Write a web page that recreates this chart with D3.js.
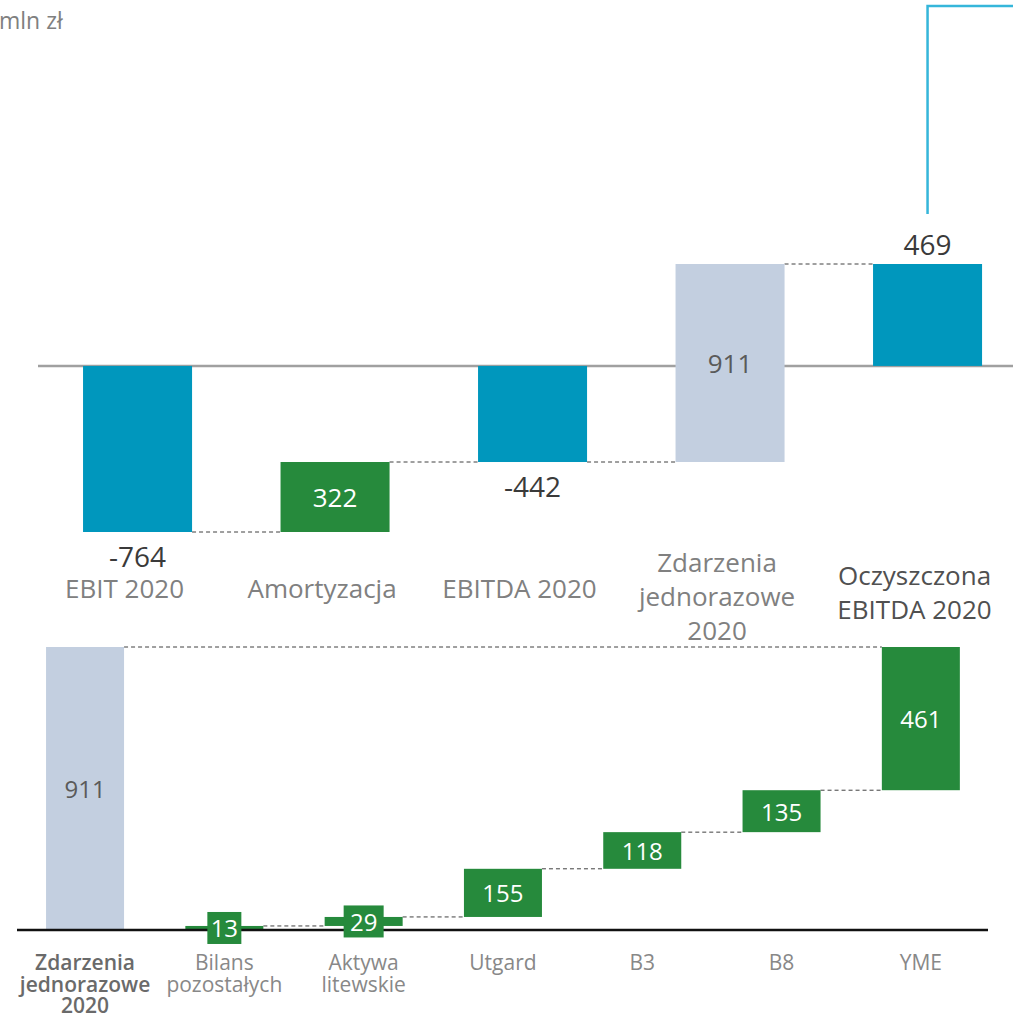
<!DOCTYPE html>
<html>
<head>
<meta charset="utf-8">
<script src="https://cdn.jsdelivr.net/npm/d3@7"></script>
<style>
  body { margin: 0; background: #fff; }
  svg { display: block; font-family: "Open Sans", "Noto Sans", sans-serif; }
</style>
</head>
<body>
<div id="chart"></div>
<script>
// top waterfall: EBIT -> oczyszczona EBITDA
const topCategories = [["EBIT 2020"], ["Amortyzacja"], ["EBITDA 2020"], ["Zdarzenia", "jednorazowe", "2020"], ["Oczyszczona", "EBITDA 2020"]];
const topValues = [-764, 322, -442, 911, 469];
const topKinds = ["total", "delta", "total", "event", "total"];

// bottom waterfall: breakdown of one-off events
const bottomCategories = [["Zdarzenia", "jednorazowe", "2020"], ["Bilans", "pozostałych"], ["Aktywa", "litewskie"], ["Utgard"], ["B3"], ["B8"], ["YME"]];
const bottomValues = [911, 13, 29, 155, 118, 135, 461];
const bottomKinds = ["reference", "delta", "delta", "delta", "delta", "delta", "delta"];

const unitLabel = "mln zł";

const width = 1013;
const height = 1014;
const colors = {
  total: "#0097bd",
  delta: "#268a3c",
  event: "#c3cfe0",
  reference: "#c3cfe0",
};

const svg = d3.select("#chart")
  .append("svg")
  .attr("width", width)
  .attr("height", height);

svg.append("text")
  .attr("x", -1)
  .attr("y", 20)
  .attr("dominant-baseline", "central")
  .attr("fill", "#808080")
  .attr("font-size", 23)
  .text(unitLabel);

function spans(values, kinds) {
  let running = 0;
  return values.map((v, i) => {
    const k = kinds[i];
    let y0, y1;
    if (k === "total") { y0 = 0; y1 = v; running = v; }
    else if (k === "reference") { y0 = 0; y1 = v; }
    else { y0 = running; y1 = running + v; running = y1; }
    return { i, v, kind: k, y0, y1 };
  });
}

// ---------- top chart ----------
const topData = spans(topValues, topKinds);

const xTop = d3.scaleBand()
  .domain(d3.range(topValues.length))
  .range([38.8, 1026.3])
  .paddingInner(0.448)
  .paddingOuter(0.224);

const yTop = d3.scaleLinear()
  .domain([-764, 469])
  .range([532, 264]);

const gTop = svg.append("g");

gTop.append("line")
  .attr("x1", 38).attr("x2", width)
  .attr("y1", yTop(0)).attr("y2", yTop(0))
  .attr("stroke", "#a0a0a0")
  .attr("stroke-width", 2.5);

// connectors
gTop.selectAll(".conn")
  .data(topData.slice(0, -1))
  .join("line")
  .attr("class", "conn")
  .attr("x1", (d) => xTop(d.i) + xTop.bandwidth())
  .attr("x2", (d) => xTop(d.i + 1))
  .attr("y1", (d) => yTop(d.y1))
  .attr("y2", (d) => yTop(d.y1))
  .attr("stroke", "#404040")
  .attr("stroke-width", 1)
  .attr("stroke-dasharray", "4,3");

gTop.selectAll(".bar")
  .data(topData)
  .join("rect")
  .attr("class", "bar")
  .attr("x", (d) => xTop(d.i))
  .attr("width", xTop.bandwidth())
  .attr("y", (d) => yTop(Math.max(d.y0, d.y1)))
  .attr("height", (d) => Math.abs(yTop(d.y0) - yTop(d.y1)))
  .attr("fill", (d) => colors[d.kind]);

// cyan link line out of the last bar
const last = topData[topData.length - 1];
const lx = xTop(last.i) + xTop.bandwidth() / 2;
gTop.append("path")
  .attr("d", d3.line()([[lx, yTop(last.y1) - 50], [lx, 6], [width, 6]]))
  .attr("fill", "none")
  .attr("stroke", "#35b6da")
  .attr("stroke-width", 2.5);

// value labels
gTop.selectAll(".val")
  .data(topData)
  .join("text")
  .attr("class", "val")
  .attr("x", (d) => xTop(d.i) + xTop.bandwidth() / 2)
  .attr("y", (d) => {
    if (d.kind === "total") return d.v < 0 ? yTop(d.v) + 24 : yTop(d.v) - 20;
    return (yTop(d.y0) + yTop(d.y1)) / 2;
  })
  .attr("text-anchor", "middle")
  .attr("dominant-baseline", "central")
  .attr("font-size", (d) => d.kind === "total" ? 28 : 26)
  .attr("fill", (d) => d.kind === "total" ? "#3a3a3a" : d.kind === "delta" ? "#fff" : "#5a5a5a")
  .text((d) => d.v);

// category labels
gTop.selectAll(".cat")
  .data(topCategories)
  .join("text")
  .attr("class", "cat")
  .attr("text-anchor", "middle")
  .attr("font-size", 26)
  .attr("fill", (d, i) => i === topCategories.length - 1 ? "#505050" : "#808080")
  .each(function (lines, i) {
    const cx = xTop(i) + xTop.bandwidth() / 2 - 13;
    const y0 = 588 - 13 * (lines.length - 1);
    d3.select(this).selectAll("tspan")
      .data(lines)
      .join("tspan")
      .attr("x", cx)
      .attr("y", (t, j) => y0 + j * 34)
      .attr("dominant-baseline", "central")
      .text((t) => t);
  });

// ---------- bottom chart ----------
const bottomData = spans(bottomValues, bottomKinds);

const xBot = d3.scaleBand()
  .domain(d3.range(bottomValues.length))
  .range([15.4, 990.5])
  .paddingInner(0.44)
  .paddingOuter(0.22);

const yBot = d3.scaleLinear()
  .domain([0, 911])
  .range([930, 647]);

const gBot = svg.append("g");

// connectors: reference top to last bar, and between deltas
const refBar = bottomData[0];
const lastBar = bottomData[bottomData.length - 1];
gBot.append("line")
  .attr("x1", xBot(refBar.i) + xBot.bandwidth())
  .attr("x2", xBot(lastBar.i))
  .attr("y1", yBot(refBar.y1)).attr("y2", yBot(refBar.y1))
  .attr("stroke", "#404040")
  .attr("stroke-width", 1)
  .attr("stroke-dasharray", "4,3");

gBot.selectAll(".conn")
  .data(bottomData.slice(1, -1))
  .join("line")
  .attr("class", "conn")
  .attr("x1", (d) => xBot(d.i) + xBot.bandwidth())
  .attr("x2", (d) => xBot(d.i + 1))
  .attr("y1", (d) => yBot(d.y1))
  .attr("y2", (d) => yBot(d.y1))
  .attr("stroke", "#404040")
  .attr("stroke-width", 1)
  .attr("stroke-dasharray", "4,3");

gBot.selectAll(".bar")
  .data(bottomData)
  .join("rect")
  .attr("class", "bar")
  .attr("x", (d) => xBot(d.i))
  .attr("width", xBot.bandwidth())
  .attr("y", (d) => yBot(d.y1))
  .attr("height", (d) => yBot(d.y0) - yBot(d.y1))
  .attr("fill", (d) => colors[d.kind]);

gBot.append("line")
  .attr("x1", 17).attr("x2", 988)
  .attr("y1", yBot(0)).attr("y2", yBot(0))
  .attr("stroke", "#111")
  .attr("stroke-width", 2.5);

// value labels (small bars get a green box behind the number)
const vals = gBot.selectAll(".val")
  .data(bottomData)
  .join("g")
  .attr("class", "val")
  .attr("transform", (d) => `translate(${xBot(d.i) + xBot.bandwidth() / 2}, ${(yBot(d.y0) + yBot(d.y1)) / 2})`);

vals.filter((d) => d.kind === "delta" && yBot(d.y0) - yBot(d.y1) < 28)
  .append("rect")
  .attr("x", (d) => d.v < 20 ? -17 : -20)
  .attr("width", (d) => d.v < 20 ? 34 : 40)
  .attr("y", -16)
  .attr("height", 32)
  .attr("fill", colors.delta);

vals.append("text")
  .attr("text-anchor", "middle")
  .attr("dominant-baseline", "central")
  .attr("font-size", 24)
  .attr("fill", (d) => d.kind === "delta" ? "#fff" : "#5a5a5a")
  .text((d) => d.v);

gBot.selectAll(".cat")
  .data(bottomCategories)
  .join("text")
  .attr("class", "cat")
  .attr("text-anchor", "middle")
  .attr("font-size", 21)
  .attr("font-weight", (d, i) => i === 0 ? 600 : "normal")
  .attr("fill", (d, i) => i === 0 ? "#6a6a6a" : "#888")
  .each(function (lines, i) {
    const cx = xBot(i) + xBot.bandwidth() / 2;
    d3.select(this).selectAll("tspan")
      .data(lines)
      .join("tspan")
      .attr("x", cx)
      .attr("y", (t, j) => 962 + j * 21.5)
      .attr("dominant-baseline", "central")
      .text((t) => t);
  });
</script>
</body>
</html>
